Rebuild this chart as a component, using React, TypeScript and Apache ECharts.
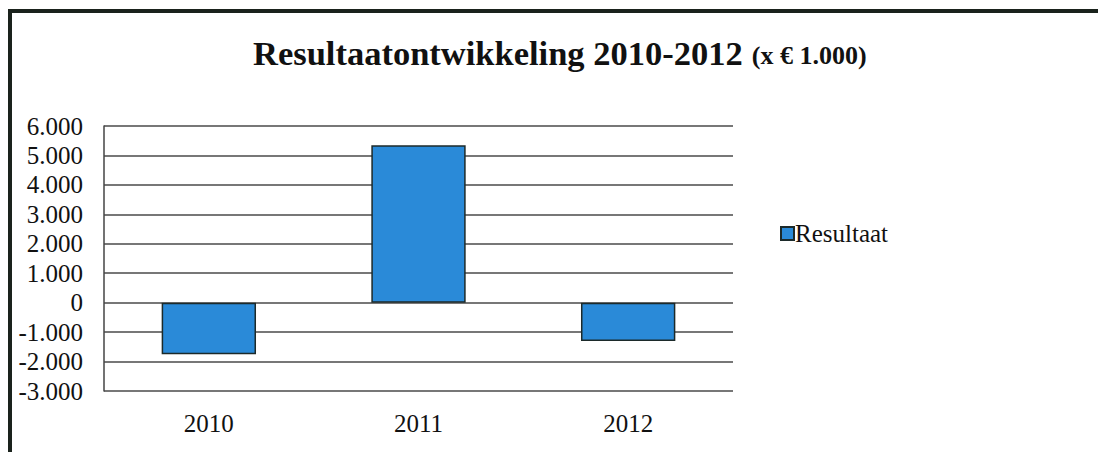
import React, { useEffect, useRef } from "react";
import * as echarts from "echarts";

const categories = ["2010", "2011", "2012"];
const resultaat = [-1750, 5350, -1300];
const seriesName = "Resultaat";
const yMin = -3000;
const yMax = 6000;
const yStep = 1000;

const FONT = "Liberation Serif";

function fmt(v: number): string {
  const s = Math.abs(v).toString().replace(/\B(?=(\d{3})+(?!\d))/g, ".");
  return (v < 0 ? "-" : "") + s;
}

export default function App() {
  const ref = useRef<HTMLDivElement>(null);
  useEffect(() => {
    if (!ref.current) return;
    const chart = echarts.init(ref.current, undefined, { renderer: "svg" });
    chart.setOption({
      animation: false,
      backgroundColor: "#ffffff",
      textStyle: { fontFamily: FONT },
      title: {
        left: 248,
        top: 30,
        text: "{a|Resultaatontwikkeling 2010-2012}  {b|(x € 1.000)}",
        textStyle: {
          fontFamily: FONT,
          rich: {
            a: { fontFamily: FONT, fontWeight: "bold", fontSize: 34.5, color: "#111" },
            b: { fontFamily: FONT, fontWeight: "bold", fontSize: 26, color: "#111", padding: [5, 0, 0, 0] },
          },
        },
      },
      legend: {
        left: 775,
        top: 216,
        icon: "rect",
        itemWidth: 13,
        itemHeight: 13,
        itemGap: 4,
        textStyle: { fontFamily: FONT, fontSize: 25, color: "#111", padding: [0, 0, 0, -4] },
        data: [seriesName],
      },
      grid: { left: 104, right: 365, top: 126, bottom: 61 },
      xAxis: {
        type: "category",
        data: categories,
        axisLine: { show: false },
        axisTick: { show: false },
        axisLabel: { fontFamily: FONT, fontSize: 25, color: "#111", margin: 20 },
      },
      yAxis: {
        type: "value",
        min: yMin,
        max: yMax,
        interval: yStep,
        axisLine: { show: true, lineStyle: { color: "#444", width: 1.5 } },
        axisTick: { show: false },
        axisLabel: {
          fontFamily: FONT,
          fontSize: 25,
          color: "#111",
          margin: 21,
          formatter: (v: number) => fmt(v),
        },
        splitLine: { show: true, lineStyle: { color: "#4a4a4a", width: 1.5 } },
      },
      series: [
        {
          name: seriesName,
          type: "bar",
          data: resultaat,
          barWidth: "45%",
          itemStyle: { color: "#2a8ad8", borderColor: "#1c2a2a", borderWidth: 1.5 },
        },
      ],
      graphic: [
        { type: "rect", shape: { x: 8, y: 9, width: 1090, height: 4 }, style: { fill: "#1a221c" }, z: 100 },
        { type: "rect", shape: { x: 8, y: 9, width: 4, height: 443 }, style: { fill: "#1a221c" }, z: 100 },
      ],
    });
    return () => chart.dispose();
  }, []);
  return (
    <div
      ref={ref}
      style={{ position: "fixed", left: 0, top: 0, width: 1098, height: 452 }}
    />
  );
}
